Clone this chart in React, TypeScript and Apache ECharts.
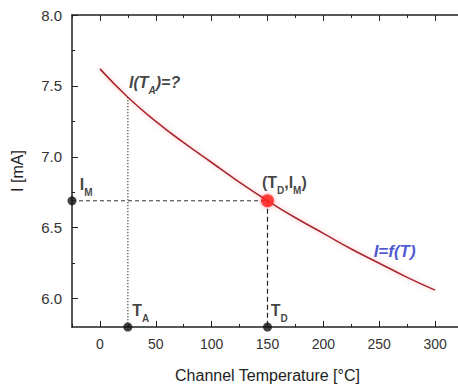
import React, { useEffect, useRef } from "react";
import * as echarts from "echarts";

// Curve I = f(T)
const temps = [0, 25, 50, 75, 100, 125, 150, 175, 200, 225, 250, 275, 300];
const currents = [7.62, 7.42, 7.25, 7.1, 6.96, 6.82, 6.69, 6.57, 6.46, 6.35, 6.25, 6.15, 6.06];

// Key points
const TA = 25;
const IA = 7.42;
const TD = 150;
const IM = 6.69;
const xMin = -25;
const xMax = 325;
const yMin = 5.8;
const yMax = 8.0;

const xTickLabels = [0, 50, 100, 150, 200, 250, 300];
const xMinorTicks = [-25, 25, 75, 125, 175, 225, 275, 325];
const yTickLabels = [6.0, 6.5, 7.0, 7.5, 8.0];
const yMinorTicks = [6.25, 6.75, 7.25, 7.75];

// Annotations: [x, y, text]
const annotations: [number, number, string][] = [
  [26, 7.54, "{bi|I(T}{bisub|A}{bi|)=?}"],
  [145, 6.83, "{b|(T}{sub|D}{b|,I}{sub|M}{b|)}"],
  [245, 6.33, "{blue|I=f(T)}"],
  [-18, 6.82, "{b|I}{sub|M}"],
  [29, 5.93, "{b|T}{sub|A}"],
  [153, 5.93, "{b|T}{sub|D}"],
];

const FONT = "Liberation Sans, Arial, sans-serif";

export default function App() {
  const ref = useRef<HTMLDivElement>(null);
  useEffect(() => {
    if (!ref.current) return;
    const chart = echarts.init(ref.current, null, { renderer: "svg" });
    const axisLine = { show: true, onZero: false, lineStyle: { color: "#222", width: 1.5 } };
    const rich = {
      b: { fontSize: 16, fontWeight: "bold", color: "#111", fontFamily: FONT, lineHeight: 20, verticalAlign: "bottom" },
      sub: { fontSize: 10, fontWeight: "bold", color: "#111", fontFamily: FONT, lineHeight: 20, verticalAlign: "bottom", padding: [0, 0, -5, 0] },
      bi: { fontSize: 16, fontWeight: "bold", fontStyle: "italic", color: "#111", fontFamily: FONT, lineHeight: 20, verticalAlign: "bottom" },
      bisub: { fontSize: 10, fontWeight: "bold", fontStyle: "italic", color: "#111", fontFamily: FONT, lineHeight: 20, verticalAlign: "bottom", padding: [0, 0, -5, 0] },
      blue: { fontSize: 17, fontWeight: "bold", fontStyle: "italic", color: "#1f2fc8", fontFamily: FONT },
    };
    chart.setOption({
      animation: false,
      backgroundColor: "#fff",
      grid: { left: 72, top: 15, width: 391, height: 312, containLabel: false, outerBoundsMode: "none" },
      xAxis: [
        {
          type: "value",
          position: "bottom",
          min: xMin,
          max: xMax,
          name: "Channel Temperature [°C]",
          nameLocation: "middle",
          nameGap: 40,
          nameTextStyle: { fontSize: 16, color: "#222", fontFamily: FONT },
          axisLine,
          axisTick: { show: true, inside: true, length: 6, customValues: xTickLabels, lineStyle: { color: "#222" } },
          axisLabel: { customValues: xTickLabels, fontSize: 14, color: "#333", fontFamily: FONT, margin: 10 },
          splitLine: { show: false },
        },
        {
          type: "value",
          position: "bottom",
          min: xMin,
          max: xMax,
          axisLine: { show: false, onZero: false },
          axisTick: { show: true, inside: true, length: 3, customValues: xMinorTicks, lineStyle: { color: "#222" } },
          axisLabel: { show: false },
          splitLine: { show: false },
        },
        {
          type: "value",
          position: "top",
          min: xMin,
          max: xMax,
          axisLine,
          axisTick: { show: true, inside: true, length: 6, customValues: xTickLabels, lineStyle: { color: "#222" } },
          axisLabel: { show: false },
          splitLine: { show: false },
        },
        {
          type: "value",
          position: "top",
          min: xMin,
          max: xMax,
          axisLine: { show: false, onZero: false },
          axisTick: { show: true, inside: true, length: 3, customValues: xMinorTicks, lineStyle: { color: "#222" } },
          axisLabel: { show: false },
          splitLine: { show: false },
        },
      ],
      yAxis: [
        {
          type: "value",
          position: "left",
          min: yMin,
          max: yMax,
          name: "I [mA]",
          nameLocation: "middle",
          nameGap: 47,
          nameRotate: 90,
          nameTextStyle: { fontSize: 16, color: "#222", fontFamily: FONT },
          axisLine,
          axisTick: { show: true, inside: true, length: 6, customValues: yTickLabels, lineStyle: { color: "#222" } },
          axisLabel: {
            customValues: yTickLabels,
            fontSize: 15,
            color: "#333",
            fontFamily: FONT,
            margin: 10,
            formatter: (v: number) => v.toFixed(1),
          },
          splitLine: { show: false },
        },
        {
          type: "value",
          position: "left",
          min: yMin,
          max: yMax,
          axisLine: { show: false, onZero: false },
          axisTick: { show: true, inside: true, length: 3, customValues: yMinorTicks, lineStyle: { color: "#222" } },
          axisLabel: { show: false },
          splitLine: { show: false },
        },
      ],
      series: [
        {
          type: "line",
          data: temps.map((t, i) => [t, currents[i]]),
          smooth: true,
          showSymbol: false,
          lineStyle: { color: "#a82630", width: 1.6, shadowColor: "rgba(255,120,120,0.55)", shadowBlur: 5 },
          z: 3,
        },
        {
          type: "line",
          data: [[xMin, IM], [TD, IM]],
          showSymbol: false,
          lineStyle: { color: "#333", width: 1, type: [4, 3] },
        },
        {
          type: "line",
          data: [[TD, IM], [TD, yMin]],
          showSymbol: false,
          lineStyle: { color: "#222", width: 1.2, type: [5, 3] },
        },
        {
          type: "line",
          data: [[TA, IA], [TA, yMin]],
          showSymbol: false,
          lineStyle: { color: "#333", width: 1.4, type: [1, 2] },
        },
        {
          type: "scatter",
          data: [[xMin, IM], [TA, yMin], [TD, yMin]],
          symbolSize: 9,
          itemStyle: { color: "#111" },
          clip: false,
          z: 5,
        },
        {
          type: "scatter",
          data: [[TD, IM]],
          symbolSize: 13,
          itemStyle: { color: "#ff1a1a", shadowColor: "rgba(255,80,80,0.7)", shadowBlur: 4 },
          clip: false,
          z: 6,
        },
        {
          type: "scatter",
          symbolSize: 0,
          clip: false,
          z: 7,
          data: annotations.map(([x, y, text]) => ({
            value: [x, y],
            label: {
              show: true,
              position: "right",
              distance: 0,
              formatter: text,
              rich,
            },
          })),
        },
      ],
    });
    return () => chart.dispose();
  }, []);
  return (
    <div
      ref={ref}
      style={{ position: "fixed", left: 0, top: 0, width: 458, height: 389, background: "#fff" }}
    />
  );
}
